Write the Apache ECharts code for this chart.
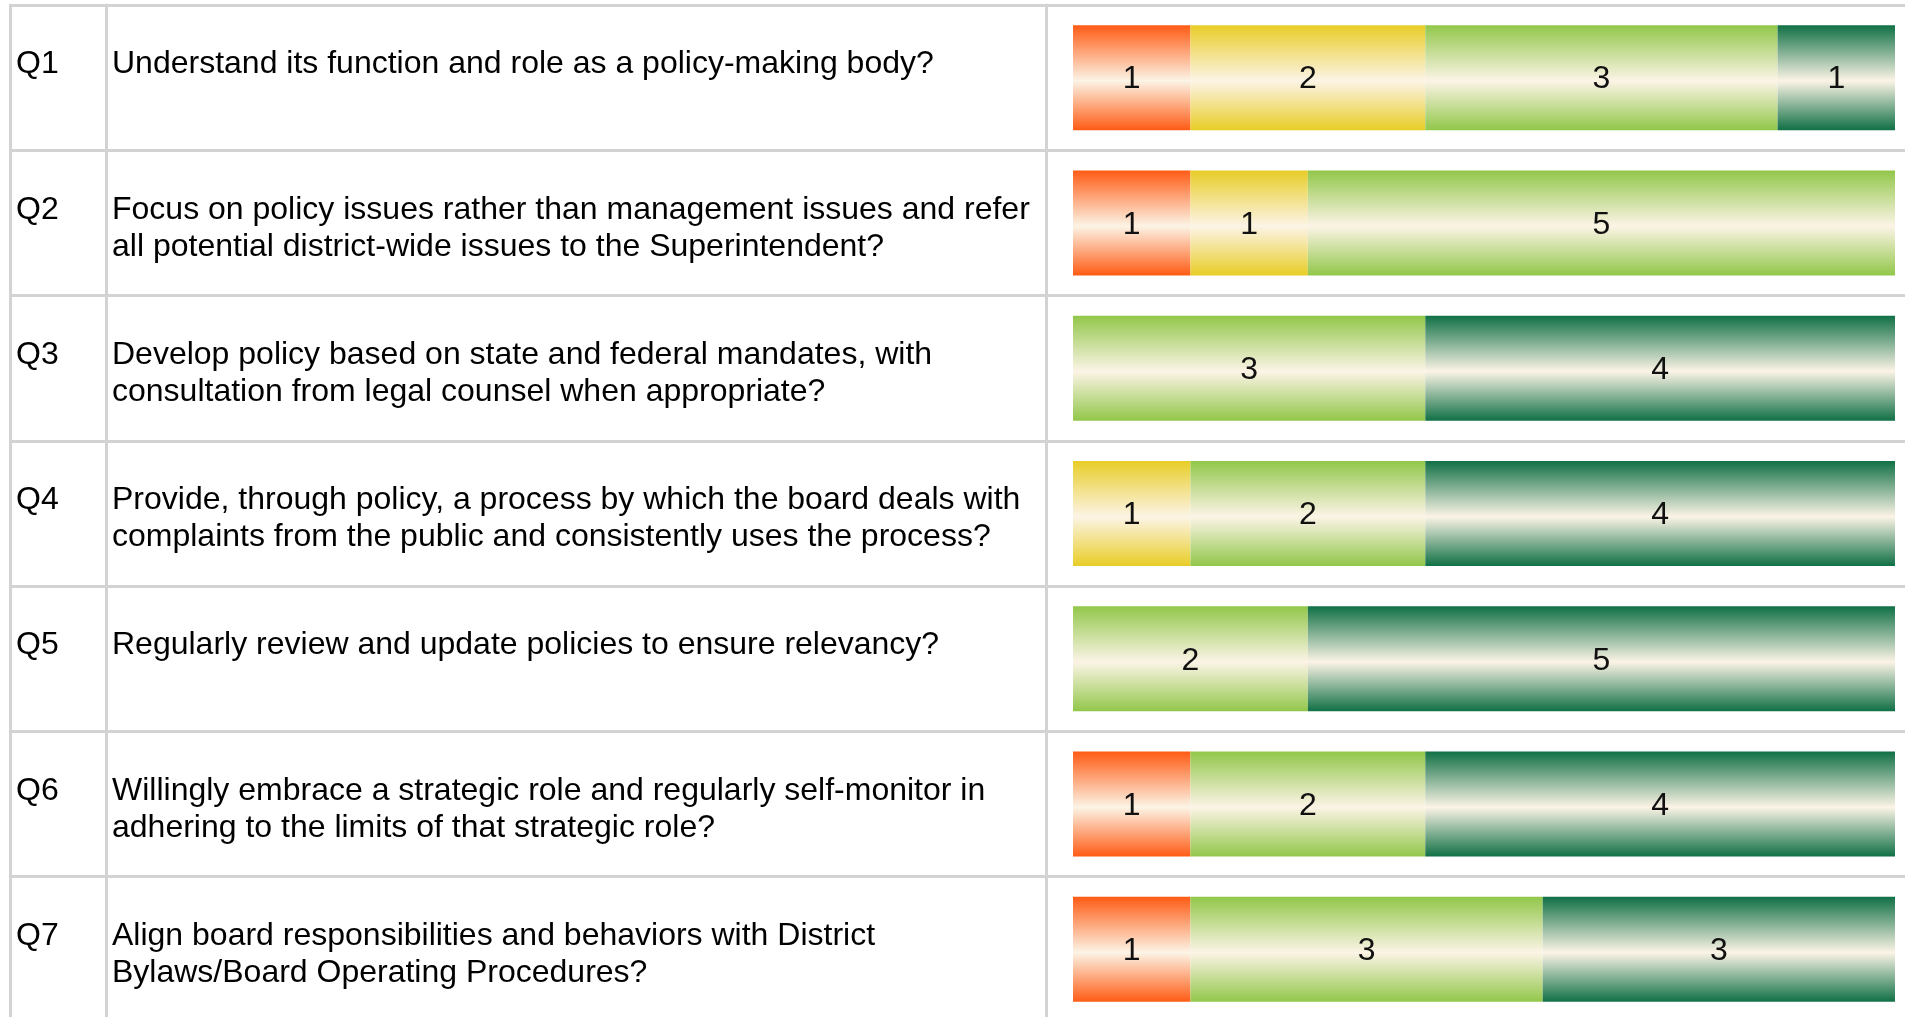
<!DOCTYPE html>
<html>
<head>
<meta charset="utf-8">
<script src="https://cdn.jsdelivr.net/npm/echarts@6/dist/echarts.min.js"></script>
<style>
  html, body { margin: 0; padding: 0; background: #fff; }
  #chart { width: 1905px; height: 1017px; }
</style>
</head>
<body>
<div id="chart"></div>
<script>
var qIds = ['Q1', 'Q2', 'Q3', 'Q4', 'Q5', 'Q6', 'Q7'];
var questions = [
  'Understand its function and role as a policy-making body?',
  'Focus on policy issues rather than management issues and refer\nall potential district-wide issues to the Superintendent?',
  'Develop policy based on state and federal mandates, with\nconsultation from legal counsel when appropriate?',
  'Provide, through policy, a process by which the board deals with\ncomplaints from the public and consistently uses the process?',
  'Regularly review and update policies to ensure relevancy?',
  'Willingly embrace a strategic role and regularly self-monitor in\nadhering to the limits of that strategic role?',
  'Align board responsibilities and behaviors with District\nBylaws/Board Operating Procedures?'
];

// answer counts per question, one array per rating level
var level1 = [1, 1, 0, 0, 0, 1, 1];
var level2 = [2, 1, 0, 1, 0, 0, 0];
var level3 = [3, 5, 3, 2, 2, 2, 3];
var level4 = [1, 0, 4, 4, 5, 4, 3];

var levelNames = ['1', '2', '3', '4'];
var levelColors = ['#ff5b14', '#e8cd27', '#92c74a', '#107046'];

var chartDom = document.getElementById('chart');
var chart = echarts.init(chartDom);

var lineColor = '#d3d3d3';
var font = 'Liberation Sans, Arial, sans-serif';
var gridTop = 5;
var gridHeight = 1017;

function shade(c) {
  return new echarts.graphic.LinearGradient(0, 0, 0, 1, [
    { offset: 0, color: c },
    { offset: 0.53, color: '#fcf4e6' },
    { offset: 1, color: c }
  ]);
}

// table column: axis with a tick on every row boundary
function tableAxis(gridIndex, labels, showLabels) {
  return {
    type: 'category',
    gridIndex: gridIndex,
    inverse: true,
    boundaryGap: false,
    data: labels.concat(['']),
    axisLine: { show: true, lineStyle: { color: lineColor, width: 3 } },
    axisTick: { show: false },
    splitLine: { show: true, lineStyle: { color: lineColor, width: 3 } },
    axisLabel: {
      show: showLabels,
      inside: true,
      interval: 0,
      margin: 6,
      color: '#000',
      fontFamily: font,
      fontSize: 32,
      lineHeight: 37,
      verticalAlign: 'top',
      padding: [41, 0, 0, 0]
    }
  };
}

var series = [level1, level2, level3, level4].map(function (vals, i) {
  return {
    name: levelNames[i],
    type: 'bar',
    stack: 'total',
    xAxisIndex: 3,
    yAxisIndex: 3,
    barWidth: 105,
    data: vals,
    itemStyle: { color: shade(levelColors[i]) },
    label: {
      show: true,
      position: 'inside',
      offset: [0, 2],
      color: '#111',
      fontFamily: font,
      fontSize: 32,
      formatter: function (p) { return p.value > 0 ? p.value : ''; }
    }
  };
});

var option = {
  backgroundColor: '#fff',
  animation: false,
  grid: [
    { left: 10, top: gridTop, width: 96, height: gridHeight, outerBoundsMode: 'none' },
    { left: 106, top: gridTop, width: 940, height: gridHeight, outerBoundsMode: 'none' },
    { left: 1046, top: gridTop, right: 0, height: gridHeight, outerBoundsMode: 'none' },
    { left: 1073, top: gridTop, right: 10, height: gridHeight, outerBoundsMode: 'none' }
  ],
  xAxis: [
    { type: 'value', gridIndex: 0, show: false },
    { type: 'value', gridIndex: 1, show: false },
    { type: 'value', gridIndex: 2, show: false },
    { type: 'value', gridIndex: 3, show: false, min: 0, max: 7 }
  ],
  yAxis: [
    tableAxis(0, qIds, true),
    tableAxis(1, questions, true),
    tableAxis(2, qIds, false),
    { type: 'category', gridIndex: 3, inverse: true, data: qIds, show: false }
  ],
  series: series
};

option && chart.setOption(option);
</script>
</body>
</html>
